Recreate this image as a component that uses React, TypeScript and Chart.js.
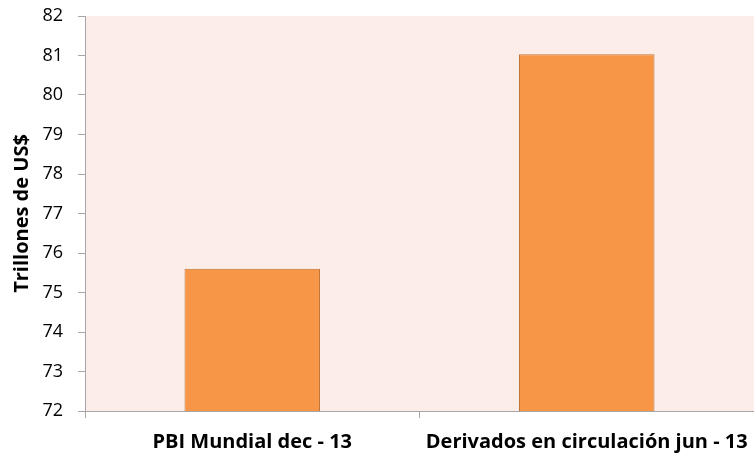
import React, { useEffect, useRef } from "react";
import { Chart, registerables } from "chart.js";

Chart.register(...registerables);

const categories = ["PBI Mundial dec - 13", "Derivados en circulación jun - 13"];
const values = [75.6, 81.03];
const yTitle = "Trillones de US$";
const yMin = 72;
const yMax = 82;

const FONT = "'Open Sans', Lato, 'DejaVu Sans', sans-serif";

const bgPlugin = {
  id: "plotBg",
  beforeDraw(chart: any) {
    const { ctx, chartArea } = chart;
    if (!chartArea) return;
    ctx.save();
    ctx.fillStyle = "#FCEDE8";
    ctx.fillRect(chartArea.left, chartArea.top, chartArea.right - chartArea.left, chartArea.bottom - chartArea.top);
    ctx.restore();
  },
};

export default function App() {
  const ref = useRef<HTMLCanvasElement | null>(null);
  useEffect(() => {
    if (!ref.current) return;
    const chart = new Chart(ref.current, {
      type: "bar",
      data: {
        labels: categories,
        datasets: [
          {
            data: values,
            backgroundColor: "#F79646",
            borderColor: "#BE7435",
            borderWidth: 1,
            barPercentage: 0.405,
            categoryPercentage: 1,
          },
        ],
      },
      options: {
        animation: false,
        responsive: false,
        maintainAspectRatio: false,
        layout: { padding: { top: 16, right: 0, left: 0, bottom: 0 } },
        plugins: { legend: { display: false }, tooltip: { enabled: false } },
        scales: {
          x: {
            afterFit(scale: any) {
              scale.height = 46;
              scale.paddingLeft = 0;
              scale.paddingRight = 0;
            },
            border: { color: "#A6A6A6", width: 1 },
            grid: { display: true, drawOnChartArea: false, drawTicks: true, tickLength: 7, color: "#A6A6A6", offset: true },
            ticks: { color: "#000", font: { family: FONT, size: 20, weight: "bold" }, padding: 12, maxRotation: 0 },
          },
          y: {
            min: yMin,
            max: yMax,
            afterFit(scale: any) {
              scale.width = 85;
              scale.paddingTop = 0;
              scale.paddingBottom = 0;
            },
            border: { color: "#A6A6A6", width: 1 },
            grid: { display: true, drawOnChartArea: false, drawTicks: true, tickLength: 7, color: "#A6A6A6" },
            ticks: { stepSize: 1, color: "#000", font: { family: FONT, size: 18 }, padding: 15 },
            title: { display: true, text: yTitle, color: "#000", font: { family: FONT, size: 20, weight: "bold" }, padding: 10 },
          },
        },
      },
      plugins: [bgPlugin],
    });
    return () => chart.destroy();
  }, []);
  return (
    <div style={{ position: "absolute", left: 0, top: 0, width: 754, height: 457 }}>
      <canvas ref={ref} width={754} height={457} style={{ width: 754, height: 457, display: "block" }} />
    </div>
  );
}
